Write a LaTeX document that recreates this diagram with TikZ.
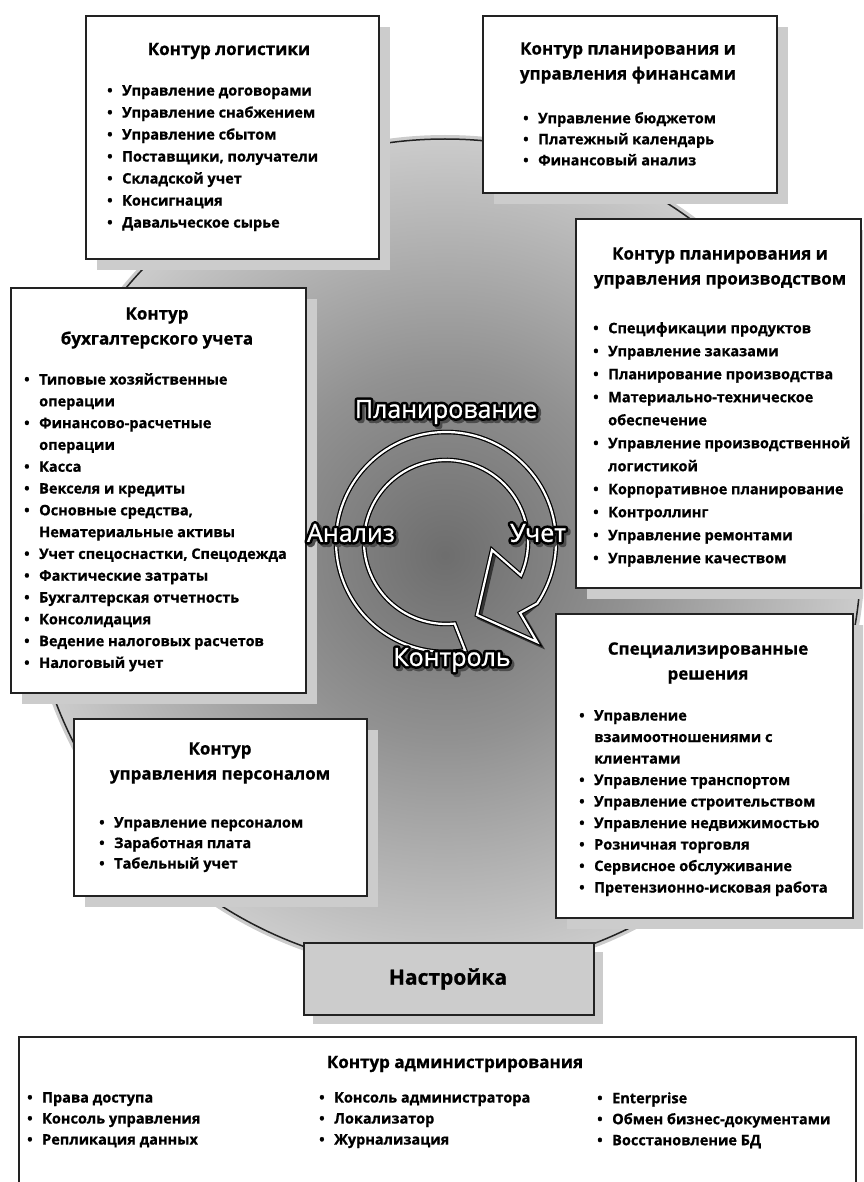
\documentclass[tikz,border=0pt]{standalone}
\usepackage{fontspec}
\setmainfont{Open Sans}[BoldFeatures={FakeBold=0.8}]
\newfontfamily\ringfont{Open Sans}[FakeBold=1]
\newfontfamily\ringfontB{Open Sans}[FakeBold=22]
\usetikzlibrary{calc}
\definecolor{bord}{HTML}{222222}
\definecolor{shadowc}{HTML}{CCCCCC}
\definecolor{nastc}{HTML}{CCCCCC}
\pgfdeclareradialshading{bgshade}{\pgfpoint{0bp}{0bp}}{color(0bp)=(black!57); color(11bp)=(black!43); color(22bp)=(black!25); color(32bp)=(black!8); color(38bp)=(white); color(70bp)=(white)}
\newcommand\bl{\makebox[15pt][l]{\textbullet}}
\newcommand\cl{\hspace*{15pt}}
\tikzset{
  box/.style={draw=bord, line width=1.8pt, fill=white, inner sep=0pt, anchor=north west},
  ttl/.style={font=\bfseries\fontsize{17}{25}\selectfont, align=center, inner sep=0pt},
  items/.style={font=\bfseries\fontsize{14.5}{#1}\selectfont, align=left, inner sep=0pt, anchor=north west},
  ringtxt/.style={font=\ringfont\fontsize{25}{25}\selectfont, text=white, inner sep=0pt},
  ringol/.style={font=\ringfontB\fontsize{25}{25}\selectfont, text=black, inner sep=0pt, line join=round},
  ringsh/.style={font=\ringfontB\fontsize{25}{25}\selectfont, text=black!70, inner sep=0pt, line join=round},
}
\newcommand\boxat[6]{%
  \fill[shadowc] (#2+#6,#3+#6) rectangle ++(#4,#5);
  \node[box, minimum width=#4pt, minimum height=#5pt] (#1) at (#2,#3) {};
}
\begin{document}
\begin{tikzpicture}[x=1pt,y=-1pt]
\useasboundingbox (0,0) rectangle (863,1182);
\clip (0,0) rectangle (863,1182);
% background gradient and big circle
\shade[shading=bgshade] (445,555) circle[radius=420];
\coordinate (bc) at (445,555);
\draw[bord, line width=1.5pt] (bc) circle[radius=416];
% boxes
\boxat{log}{85}{15}{293}{243}{12}
\boxat{fin}{482}{15}{294}{177}{12}
\boxat{prod}{575}{218}{285}{369}{12}
\boxat{buh}{10}{287}{295}{405}{12}
\boxat{pers}{73}{718}{293}{177}{12}
\boxat{spec}{555}{613}{297}{304}{12}
\fill[shadowc] (313,952) rectangle ++(290,72);
\node[box, fill=nastc, minimum width=290pt, minimum height=72pt] (nast) at (303,942) {};
\node[box, minimum width=837pt, minimum height=200pt] (adm) at (18,1036) {};
% titles
\node[ttl] (logT) at (229,51) {Контур логистики};
\node[ttl] (finT) at (628,63) {Контур планирования и\\управления финансами};
\node[ttl] (prodT) at (720,268) {Контур планирования и\\управления производством};
\node[ttl] (buhT) at (157,328) {Контур\\бухгалтерского учета};
\node[ttl] (persT) at (220,763) {Контур\\управления персоналом};
\node[ttl] (specT) at (708,663) {Специализированные\\решения};
\node[font=\bfseries\fontsize{21}{25}\selectfont, inner sep=0pt] (nastT) at (448,979) {Настройка};
\node[ttl] (admT) at (455,1064) {Контур администрирования};
% lists
\node[items=22] (logL) at (107,85) {\bl Управление договорами\\\bl Управление снабжением\\\bl Управление сбытом\\\bl Поставщики, получатели\\\bl Складской учет\\\bl Консигнация\\\bl Давальческое сырье};
\node[items=21] (finL) at (523,112) {\bl Управление бюджетом\\\bl Платежный календарь\\\bl Финансовый анализ};
\node[items=23] (prodL) at (593,322) {\bl Спецификации продуктов\\\bl Управление заказами\\\bl Планирование производства\\\bl Материально-техническое\\\cl обеспечение\\\bl Управление производственной\\\cl логистикой\\\bl Корпоративное планирование\\\bl Контроллинг\\\bl Управление ремонтами\\\bl Управление качеством};
\node[items=21.8] (buhL) at (24,373) {\bl Типовые хозяйственные\\\cl операции\\\bl Финансово-расчетные\\\cl операции\\\bl Касса\\\bl Векселя и кредиты\\\bl Основные средства,\\\cl Нематериальные активы\\\bl Учет спецоснастки, Спецодежда\\\bl Фактические затраты\\\bl Бухгалтерская отчетность\\\bl Консолидация\\\bl Ведение налоговых расчетов\\\bl Налоговый учет};
\node[items=20.5] (persL) at (99,817) {\bl Управление персоналом\\\bl Заработная плата\\\bl Табельный учет};
\node[items=21.5] (specL) at (579,710) {\bl Управление\\\cl взаимоотношениями с\\\cl клиентами\\\bl Управление транспортом\\\bl Управление строительством\\\bl Управление недвижимостью\\\bl Розничная торговля\\\bl Сервисное обслуживание\\\bl Претензионно-исковая работа};
\node[items=21] (admA) at (27,1092) {\bl Права доступа\\\bl Консоль управления\\\bl Репликация данных};
\node[items=21] (admB) at (319,1092) {\bl Консоль администратора\\\bl Локализатор\\\bl Журнализация};
\node[items=21] (admC) at (597,1092) {\bl Enterprise\\\bl Обмен бизнес-документами\\\bl Восстановление БД};
% cycle arrow
\coordinate (rc) at (446,542);
\path ($(rc)+(80:110)$) coordinate (r0) ($(rc)+(24:82)$) coordinate (r1);
\begin{scope}[shift={(2.5,2.5)}]
\draw[black!80, line width=4.5pt, line join=miter] (r0) arc[start angle=80, end angle=394, radius=110] -- (520,613) -- (537,642) -- (477,615) -- (492,550) -- (r1) arc[start angle=384, end angle=84, radius=82] -- cycle;
\end{scope}
\draw[black, line width=4.5pt, line join=miter] (r0) arc[start angle=80, end angle=394, radius=110] -- (520,613) -- (537,642) -- (477,615) -- (492,550) -- (r1) arc[start angle=384, end angle=84, radius=82] -- cycle;
\draw[white, line width=2.2pt, line join=miter] (r0) arc[start angle=80, end angle=394, radius=110] -- (520,613) -- (537,642) -- (477,615) -- (492,550) -- (r1) arc[start angle=384, end angle=84, radius=82] -- cycle;
% ring labels
\foreach \n/\t/\x/\y in {pl/Планирование/446/412, an/Анализ/351/533, uc/Учет/538/533, ko/Контроль/452/660}{
  \node[ringsh] at (\x+2.5,\y+2.5) {\t};
  \node[ringol] at (\x,\y) {\t};
  \node[ringtxt] (\n) at (\x,\y) {\t};
}
\end{tikzpicture}
\end{document}
